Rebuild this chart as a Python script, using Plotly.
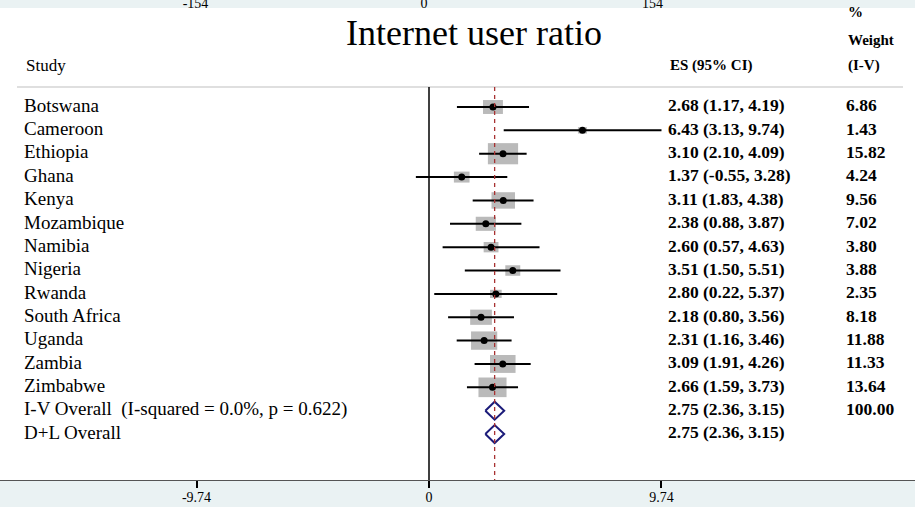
import plotly.graph_objects as go
import numpy as np

# study rows
studies = ["Botswana", "Cameroon", "Ethiopia", "Ghana", "Kenya", "Mozambique",
           "Namibia", "Nigeria", "Rwanda", "South Africa", "Uganda", "Zambia",
           "Zimbabwe"]
es = [2.68, 6.43, 3.10, 1.37, 3.11, 2.38, 2.60, 3.51, 2.80, 2.18, 2.31, 3.09, 2.66]
lo = [1.17, 3.13, 2.10, -0.55, 1.83, 0.88, 0.57, 1.50, 0.22, 0.80, 1.16, 1.91, 1.59]
hi = [4.19, 9.74, 4.09, 3.28, 4.38, 3.87, 4.63, 5.51, 5.37, 3.56, 3.46, 4.26, 3.73]
weight = [6.86, 1.43, 15.82, 4.24, 9.56, 7.02, 3.80, 3.88, 2.35, 8.18, 11.88, 11.33, 13.64]

# pooled rows
pooled = ["I-V Overall  (I-squared = 0.0%, p = 0.622)", "D+L Overall"]
pooled_es = [2.75, 2.75]
pooled_lo = [2.36, 2.36]
pooled_hi = [3.15, 3.15]
pooled_weight = ["100.00", ""]

bottom_ticks = [-9.74, 0, 9.74]
top_ticks = [-154, 0, 154]

# pixel geometry of the page
W, H = 915, 507
px_per_x = 23.87
x_zero_px = 429
row_px = 23.36
first_row_px = 107
top_px, bottom_px = 8, 480

def xdata(px):
    return (px - x_zero_px) / px_per_x

def ydata(px):
    return 1 + (px - first_row_px) / row_px

FONT = "Liberation Serif"
rows = np.arange(1, len(studies) + 1)
prow = np.arange(len(studies) + 1, len(studies) + 1 + len(pooled))

es_a, lo_a, hi_a, w_a = map(np.array, (es, lo, hi, weight))
box_w = 7.6 * np.sqrt(w_a) / px_per_x
box_h = 0.7 * 7.6 * np.sqrt(w_a) / row_px

fig = go.Figure()

# weight boxes
fig.add_trace(go.Bar(
    y=rows, x=box_w, base=es_a - box_w / 2, width=box_h, orientation="h",
    marker=dict(color="#bababa", line_width=0), hoverinfo="skip",
))

# point estimates with CIs
fig.add_trace(go.Scatter(
    x=es, y=rows, mode="markers",
    marker=dict(color="black", size=7),
    error_x=dict(type="data", symmetric=False, array=hi_a - es_a,
                 arrayminus=es_a - lo_a, color="black", thickness=2, width=0),
    hoverinfo="skip",
))

# pooled diamonds
dh = 9 / row_px
for r, e, l, h in zip(prow, pooled_es, pooled_lo, pooled_hi):
    fig.add_trace(go.Scatter(
        x=[l, e, h, e, l], y=[r, r - dh, r, r + dh, r], mode="lines",
        line=dict(color="#1c1c7a", width=2), hoverinfo="skip",
    ))

# text columns
all_rows = list(rows) + list(prow)
fig.add_trace(go.Scatter(
    x=[xdata(24)] * len(all_rows), y=all_rows, mode="text", text=studies + pooled,
    textposition="middle right", textfont=dict(family=FONT, size=19, color="black"),
    hoverinfo="skip",
))
es_text = [f"{e:.2f} ({l:.2f}, {h:.2f})"
           for e, l, h in zip(es + pooled_es, lo + pooled_lo, hi + pooled_hi)]
fig.add_trace(go.Scatter(
    x=[xdata(668)] * len(es_text), y=all_rows, mode="text",
    text=[f"<b>{t}</b>" for t in es_text], textposition="middle right",
    textfont=dict(family=FONT, size=17.5, color="black"), hoverinfo="skip",
))
w_text = [f"{w:.2f}" for w in weight] + pooled_weight
fig.add_trace(go.Scatter(
    x=[xdata(846)] * len(w_text), y=all_rows, mode="text",
    text=[f"<b>{t}</b>" if t else "" for t in w_text], textposition="middle right",
    textfont=dict(family=FONT, size=17.5, color="black"), hoverinfo="skip",
))

# invisible trace so the top axis is drawn
fig.add_trace(go.Scatter(x=top_ticks, y=[0, 0, 0], xaxis="x2", mode="markers",
                         marker=dict(opacity=0), hoverinfo="skip"))

line_top = ydata(87)
y_bottom = ydata(bottom_px)
fig.add_shape(type="line", xref="paper", x0=17 / W, x1=903 / W, y0=line_top, y1=line_top,
              line=dict(color="#d4d4d4", width=1.5))
fig.add_shape(type="line", x0=0, x1=0, y0=line_top, y1=y_bottom,
              line=dict(color="black", width=1.5))
fig.add_shape(type="line", x0=pooled_es[0], x1=pooled_es[0], y0=line_top, y1=y_bottom,
              line=dict(color="#a83232", width=1.3, dash="4px,4px"))

# headers
def header(txt, px, py, size=15, bold=False):
    fig.add_annotation(text=f"<b>{txt}</b>" if bold else txt, x=xdata(px), y=ydata(py),
                       xanchor="left", yanchor="middle", showarrow=False,
                       font=dict(family=FONT, size=size, color="black"))

header("Study", 24, 65, size=17)
header("ES (95% CI)", 668, 65, bold=True)
header("%", 846, 12, bold=True)
header("Weight", 846, 40, bold=True)
header("(I-V)", 846, 65, bold=True)
fig.add_annotation(text="Internet user ratio", x=xdata(474), y=ydata(33), xanchor="center",
                   yanchor="middle", showarrow=False,
                   font=dict(family=FONT, size=36, color="black"))

x_range = [xdata(0), xdata(W)]
top_scale = 228.5 / 154
fig.update_layout(
    width=W, height=H, showlegend=False, barmode="overlay",
    margin=dict(l=0, r=0, t=top_px, b=H - bottom_px, pad=0),
    paper_bgcolor="#eaf2f3", plot_bgcolor="white",
    xaxis=dict(range=x_range, tickvals=bottom_ticks, ticktext=[f"{t:g}" for t in bottom_ticks],
               showgrid=False, zeroline=False, showline=True, linecolor="#555", linewidth=1,
               ticks="outside", ticklen=7, tickcolor="black", tickwidth=1.5,
               ticklabelstandoff=-3, automargin=False,
               tickfont=dict(family=FONT, size=14, color="black")),
    xaxis2=dict(overlaying="x", side="top", range=[-424 / top_scale, (W - 424) / top_scale],
                tickvals=top_ticks, ticktext=[str(t) for t in top_ticks],
                showgrid=False, zeroline=False, showline=False, ticks="",
                ticklabelstandoff=-4, automargin=False,
                tickfont=dict(family=FONT, size=14, color="black")),
    yaxis=dict(range=[y_bottom, ydata(top_px)], visible=False, showgrid=False,
               zeroline=False, automargin=False),
)

# the page body has a default 8px margin; drop it so the figure fills the window
fig.write_html("out.html", config={"displayModeBar": False},
               post_script="document.body.style.margin='0';")
